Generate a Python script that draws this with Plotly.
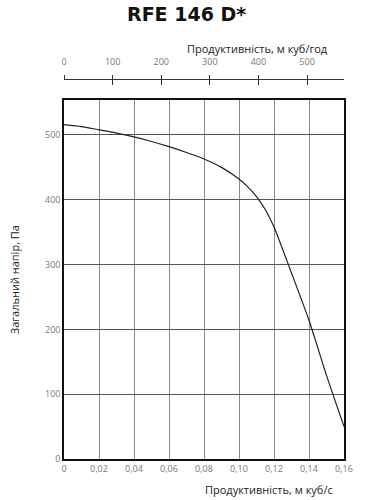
import plotly.graph_objects as go

# Data
flow_m3s = [0, 0.01, 0.02, 0.03, 0.04, 0.05, 0.06, 0.07, 0.08, 0.09, 0.10, 0.105, 0.11, 0.115, 0.12, 0.13, 0.14, 0.15, 0.16]
pressure_pa = [516, 513, 508, 503, 497, 490, 482, 473, 463, 450, 432, 420, 405, 385, 358, 287, 214, 129, 50]

x_ticks = [0, 0.02, 0.04, 0.06, 0.08, 0.10, 0.12, 0.14, 0.16]
x_ticklabels = ["0", "0,02", "0,04", "0,06", "0,08", "0,10", "0,12", "0,14", "0,16"]
y_ticks = [0, 100, 200, 300, 400, 500]
top_ticks = [0, 100, 200, 300, 400, 500]

title_text = "RFE 146 D*"
x_title = "Продуктивність, м куб/с"
top_title = "Продуктивність, м куб/год"
y_title = "Загальний напір, Па"

x_max = 0.16
y_max = 554

tick_font = dict(family="Open Sans", size=9, color="#777")

fig = go.Figure()
fig.add_trace(go.Scatter(
    x=flow_m3s, y=pressure_pa, mode="lines",
    line=dict(color="#222", width=1.2, shape="spline", smoothing=0.6),
    hoverinfo="skip", showlegend=False,
))
# dummy traces to activate top axes
fig.add_trace(go.Scatter(x=[0], y=[None], xaxis="x2", yaxis="y", showlegend=False, hoverinfo="skip"))
fig.add_trace(go.Scatter(x=[0], y=[None], xaxis="x3", yaxis="y", showlegend=False, hoverinfo="skip"))

fig.update_layout(
    width=365, height=500,
    margin=dict(l=64, r=14, t=79, b=41),
    paper_bgcolor="white", plot_bgcolor="white",
    separators=", ",
    xaxis=dict(
        range=[0, x_max], tickvals=x_ticks, ticktext=x_ticklabels,
        showgrid=True, gridcolor="#8a8a8a", gridwidth=1,
        showline=True, linecolor="#111", linewidth=1.5, mirror=True,
        ticks="", tickfont=tick_font, zeroline=False,
        domain=[0, 1], anchor="y",
    ),
    yaxis=dict(
        range=[0, y_max], tickvals=y_ticks,
        showgrid=True, gridcolor="#555", gridwidth=1,
        showline=True, linecolor="#111", linewidth=1.5, mirror=True,
        ticks="", tickfont=tick_font, zeroline=False,
        domain=[0, 359 / 380],
    ),
    xaxis2=dict(
        overlaying="x", side="top", anchor="free", position=1,
        range=[0, x_max * 3600], tickvals=top_ticks,
        showgrid=False, zeroline=False,
        showline=True, linecolor="#333", linewidth=1,
        ticks="outside", ticklen=4, tickcolor="#333", tickwidth=1,
        tickfont=tick_font, ticklabelstandoff=6,
    ),
    xaxis3=dict(
        overlaying="x", side="top", anchor="free", position=1,
        range=[0, x_max * 3600], tickvals=top_ticks,
        showgrid=False, zeroline=False, showline=False,
        ticks="inside", ticklen=5, tickcolor="#333", tickwidth=1,
        showticklabels=False,
    ),
    annotations=[
        dict(text=f"<b>{title_text}</b>", x=190, y=12, xref="paper", yref="paper",
             showarrow=False),
        dict(text=top_title, x=(337 - 64) / 287, y=(459 - 48) / 380, xref="paper", yref="paper",
             xanchor="right", yanchor="middle", showarrow=False,
             font=dict(family="Open Sans", size=11, color="#222")),
        dict(text=x_title, x=(342 - 64) / 287, y=-(489 - 459) / 380, xref="paper", yref="paper",
             xanchor="right", yanchor="middle", showarrow=False,
             font=dict(family="Open Sans", size=11, color="#222")),
        dict(text=y_title, x=-(64 - 13) / 287, y=(459 - 280) / 380, xref="paper", yref="paper",
             xanchor="center", yanchor="middle", textangle=-90, showarrow=False,
             font=dict(family="Open Sans", size=11, color="#222")),
    ],
)
# fix title annotation position
fig.layout.annotations[0].update(
    x=(190 - 64) / 287, y=(459 - 14) / 380, xanchor="center", yanchor="middle",
    font=dict(family="DejaVu Sans", size=19, color="#111"),
)

fig.write_html("out.html")
